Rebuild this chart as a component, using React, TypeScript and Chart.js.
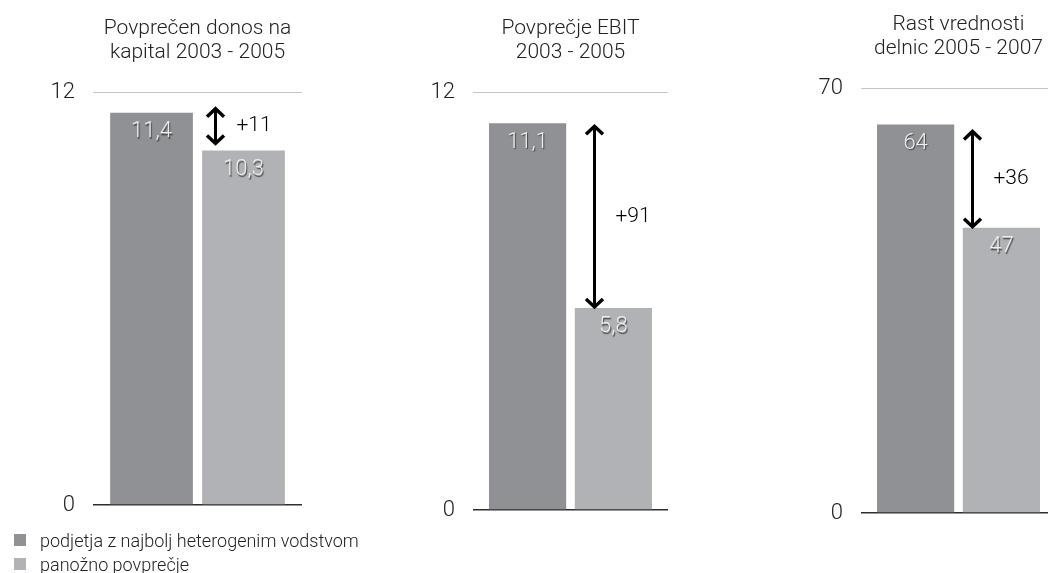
import React, { useEffect, useRef } from "react";
import { Chart, registerables } from "chart.js";

Chart.register(...registerables);

// Series and panel data
const seriesNames = ["podjetja z najbolj heterogenim vodstvom", "panožno povprečje"];
const panelTitles = [
  ["Povprečen donos na", "kapital 2003 - 2005"],
  ["Povprečje EBIT", "2003 - 2005"],
  ["Rast vrednosti", "delnic 2005 - 2007"],
];
const leaderValues = [11.4, 11.1, 64];
const industryValues = [10.3, 5.8, 47];
const axisMax = [12, 12, 70];

const FONT = "'Helvetica Neue', Roboto, 'Liberation Sans', sans-serif";
const TEXT = "#222222";
const DARK = "#8f9195";
const LIGHT = "#b1b2b5";

const PAGE_W = 1048;
const PAGE_H = 573;
const Y_AXIS_W = 80;
const PAD_RIGHT = 4;
const TITLE_SIZE = 21;
const TITLE_LINE = 24;
const TITLE_GAP = 27;

// Plot-area placement of each panel on the page, plus arrow placement tweaks
const frames = [
  { left: 93, right: 302, top: 92, bottom: 505, arrowX: 13, arrowTop: -5, arrowBottom: -6 },
  { left: 473, right: 668, top: 92, bottom: 510, arrowX: 19, arrowTop: 2, arrowBottom: 0 },
  { left: 861, right: 1056, top: 88, bottom: 513, arrowX: 9, arrowTop: 6, arrowBottom: 0 },
];

const formatValue = (v: number) => String(v).replace(".", ",");

// Light value labels with a soft drop shadow inside the top of each bar
const valueLabels = {
  id: "valueLabels",
  afterDatasetsDraw(chart: any) {
    const { ctx } = chart;
    ctx.save();
    ctx.font = `300 22px ${FONT}`;
    ctx.textAlign = "center";
    ctx.textBaseline = "middle";
    ctx.fillStyle = "#eeeeee";
    ctx.shadowColor = "rgba(40,40,40,0.75)";
    ctx.shadowOffsetX = 1;
    ctx.shadowOffsetY = 1.5;
    ctx.shadowBlur = 1;
    chart.data.datasets.forEach((ds: any, di: number) => {
      chart.getDatasetMeta(di).data.forEach((bar: any, j: number) => {
        ctx.fillText(formatValue(ds.data[j]), bar.x, bar.y + 19);
      });
    });
    ctx.restore();
  },
};

// Double-headed arrow between the two bar tops with the relative difference in %
const upliftArrow = {
  id: "upliftArrow",
  afterDatasetsDraw(chart: any, _args: any, opts: any) {
    const { ctx } = chart;
    const lead = chart.getDatasetMeta(0).data[0];
    const ind = chart.getDatasetMeta(1).data[0];
    const a = chart.data.datasets[0].data[0];
    const b = chart.data.datasets[1].data[0];
    const x = Math.round(ind.x - ind.width / 2 + opts.x) + 0.5;
    const y1 = lead.y + opts.top;
    const y2 = ind.y + opts.bottom;
    const hw = 8.5;
    const hh = 9;
    ctx.save();
    ctx.strokeStyle = "#000";
    ctx.lineWidth = 3;
    ctx.lineCap = "butt";
    ctx.lineJoin = "miter";
    ctx.beginPath();
    ctx.moveTo(x, y1 + 1);
    ctx.lineTo(x, y2 - 1);
    ctx.stroke();
    ctx.lineWidth = 3.4;
    ctx.beginPath();
    ctx.moveTo(x - hw, y1 + hh);
    ctx.lineTo(x, y1 + 1);
    ctx.lineTo(x + hw, y1 + hh);
    ctx.moveTo(x - hw, y2 - hh);
    ctx.lineTo(x, y2 - 1);
    ctx.lineTo(x + hw, y2 - hh);
    ctx.stroke();
    ctx.fillStyle = "#000";
    ctx.font = `300 21px ${FONT}`;
    ctx.textAlign = "left";
    ctx.textBaseline = "middle";
    ctx.fillText(`+${Math.round((a / b - 1) * 100)}`, x + 21, (y1 + y2) / 2);
    ctx.restore();
  },
};

function buildConfig(i: number): any {
  const f = frames[i];
  const max = axisMax[i];
  return {
    type: "bar",
    data: {
      labels: [""],
      datasets: [
        {
          label: seriesNames[0],
          data: [leaderValues[i]],
          backgroundColor: DARK,
          categoryPercentage: 0.88,
          barPercentage: 0.9,
        },
        {
          label: seriesNames[1],
          data: [industryValues[i]],
          backgroundColor: LIGHT,
          categoryPercentage: 0.88,
          barPercentage: 0.9,
        },
      ],
    },
    options: {
      responsive: false,
      animation: false,
      events: [],
      layout: { padding: { left: 0, right: PAD_RIGHT, top: 0, bottom: PAGE_H - f.bottom } },
      plugins: {
        legend: { display: false },
        tooltip: { enabled: false },
        title: {
          display: true,
          text: panelTitles[i],
          fullSize: false,
          color: TEXT,
          font: { family: FONT, size: TITLE_SIZE, weight: "300", lineHeight: TITLE_LINE / TITLE_SIZE },
          padding: { top: f.top - 2 * TITLE_LINE - TITLE_GAP, bottom: TITLE_GAP },
        },
        upliftArrow: { x: f.arrowX, top: f.arrowTop, bottom: f.arrowBottom },
      },
      scales: {
        x: { display: false },
        y: {
          min: 0,
          max,
          afterBuildTicks: (s: any) => {
            s.ticks = [{ value: 0 }, { value: max }];
          },
          afterFit: (s: any) => {
            s.width = Y_AXIS_W;
          },
          border: { display: false },
          grid: {
            drawTicks: false,
            color: (c: any) => (c.tick && c.tick.value === 0 ? "#2e2e2e" : "#c6c6c6"),
            lineWidth: (c: any) => (c.tick && c.tick.value === 0 ? 1.6 : 1),
          },
          ticks: {
            padding: 18,
            color: TEXT,
            font: { family: FONT, size: 22, weight: "300" },
          },
        },
      },
    },
    plugins: [valueLabels, upliftArrow],
  };
}

export default function App() {
  const refs = [useRef<HTMLCanvasElement>(null), useRef<HTMLCanvasElement>(null), useRef<HTMLCanvasElement>(null)];

  useEffect(() => {
    const charts = refs.map((r, i) => new Chart(r.current as HTMLCanvasElement, buildConfig(i)));
    return () => charts.forEach((c) => c.destroy());
  }, []);

  return (
    <div
      style={{
        position: "fixed",
        left: 0,
        top: 0,
        width: PAGE_W,
        height: PAGE_H,
        overflow: "hidden",
        background: "#fff",
        fontFamily: FONT,
      }}
    >
      {frames.map((f, i) => {
        const w = Y_AXIS_W + (f.right - f.left) + PAD_RIGHT;
        return (
          <canvas
            key={i}
            ref={refs[i]}
            width={w}
            height={PAGE_H}
            style={{ position: "absolute", left: f.left - Y_AXIS_W, top: 0, width: w, height: PAGE_H }}
          />
        );
      })}
      <div style={{ position: "absolute", left: 14, top: 528, color: TEXT, fontSize: 18, fontWeight: 300 }}>
        {seriesNames.map((name, i) => (
          <div key={name} style={{ display: "flex", alignItems: "center", height: 24 }}>
            <span
              style={{
                display: "inline-block",
                width: 12,
                height: 12,
                background: i === 0 ? DARK : LIGHT,
                marginRight: 14,
              }}
            />
            <span>{name}</span>
          </div>
        ))}
      </div>
    </div>
  );
}
